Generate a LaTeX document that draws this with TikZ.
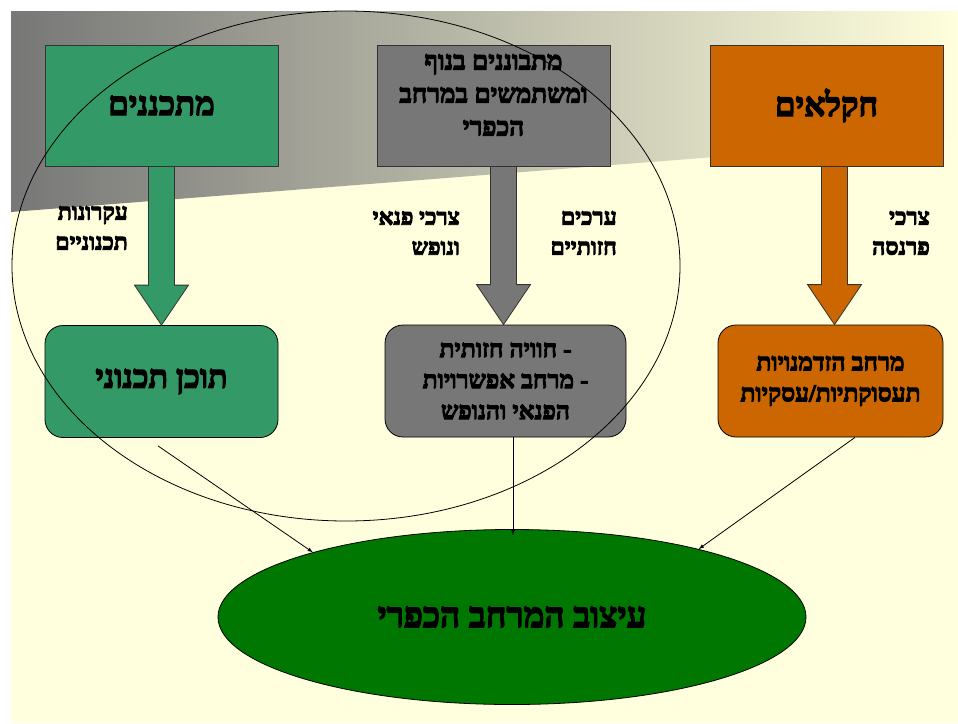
\documentclass[tikz,border=0pt]{standalone}
\usepackage{fontspec}
\usetikzlibrary{shapes.geometric,calc}
\newfontfamily\hebfont[Script=Hebrew, UprightFont={* Bold}, FakeBold=4]{Liberation Serif}
\TeXXeTstate=1
\definecolor{bgyellow}{HTML}{FFFFDD}
\definecolor{bandgray}{HTML}{777777}
\definecolor{planG}{HTML}{339966}
\definecolor{viewG}{HTML}{777777}
\definecolor{farmO}{HTML}{CC6600}
\definecolor{designG}{HTML}{007700}
\definecolor{edge}{HTML}{333333}
\begin{document}
\begin{tikzpicture}[x=1pt,y=-1pt,>=latex,
    sqbox/.style={draw=edge, line width=0.8pt, minimum width=233pt, minimum height=121pt, inner sep=0pt},
    rbox/.style={draw=black, line width=0.8pt, rounded corners=18pt, minimum height=112pt, inner sep=0pt, align=center,
      font=\hebfont\fontsize{24.5}{31}\selectfont},
    fat/.style={draw=edge, line width=0.8pt},
    lbl/.style={anchor=east, align=right, inner sep=0pt, font=\hebfont\fontsize{23}{30}\selectfont}]
    \useasboundingbox (0,0) rectangle (958,723);
    \fill[white] (0,0) rectangle (958,723);
    \fill[bgyellow] (11,11) rectangle (958,723);
    \shade[left color=bandgray, right color=bgyellow] (11,11) -- (958,11) -- (958,138) -- (11,212) -- cycle;

    \node[sqbox, fill=planG, font=\hebfont\fontsize{33}{38}\selectfont] (plan) at (161.5,105.5) {\beginR מתכננים\endR};
    \node[sqbox, fill=viewG] (obs) at (493.5,105.5) {};
    \node[align=center, inner sep=0pt, font=\hebfont\fontsize{26}{33}\selectfont] (obsText) at (493.5,95)
      {\beginR מתבוננים בנוף\endR\\\beginR ומשתמשים במרחב\endR\\\beginR הכפרי\endR};
    \node[sqbox, fill=farmO, font=\hebfont\fontsize{33}{38}\selectfont] (farm) at (826.5,105.5) {\beginR חקלאים\endR};

    \node[rbox, fill=planG, minimum width=233pt, font=\hebfont\fontsize{32}{36}\selectfont] (tokhen) at (161.5,381.5) {\beginR תוכן תכנוני\endR};
    \node[rbox, fill=viewG, minimum width=241pt] (exp) at (505.5,381)
      {\beginR - חוויה חזותית\endR\\\beginR - מרחב אפשרויות\endR\\\beginR הפנאי והנופש\endR};
    \node[rbox, fill=farmO, minimum width=225pt] (opp) at (830.5,381)
      {\beginR מרחב הזדמנויות\endR\\\beginR תעסוקתיות/עסקיות\endR};

    \node[ellipse, draw=black, line width=0.8pt, fill=designG, minimum width=588pt, minimum height=175pt,
      font=\hebfont\fontsize{35}{40}\selectfont] (design) at (512,617) {\beginR עיצוב המרחב הכפרי\endR};

    \coordinate (pTop) at (plan.south);
    \coordinate (pTip) at (tokhen.north);
    \coordinate (gTip) at ([xshift=-2pt]exp.north);
    \coordinate (gTop) at (obs.south -| gTip);
    \coordinate (oTip) at ([xshift=4pt]opp.north);
    \coordinate (oTop) at (farm.south -| oTip);
    \draw[fat, fill=planG] ($(pTop)+(-13,0)$) -- ($(pTip)+(-13,-40)$) -- ($(pTip)+(-27,-40)$) -- (pTip)
      -- ($(pTip)+(27,-40)$) -- ($(pTip)+(13,-40)$) -- ($(pTop)+(13,0)$) -- cycle;
    \draw[fat, fill=viewG] ($(gTop)+(-13,0)$) -- ($(gTip)+(-13,-40)$) -- ($(gTip)+(-27,-40)$) -- (gTip)
      -- ($(gTip)+(27,-40)$) -- ($(gTip)+(13,-40)$) -- ($(gTop)+(13,0)$) -- cycle;
    \draw[fat, fill=farmO] ($(oTop)+(-13,0)$) -- ($(oTip)+(-13,-40)$) -- ($(oTip)+(-27,-40)$) -- (oTip)
      -- ($(oTip)+(27,-40)$) -- ($(oTip)+(13,-40)$) -- ($(oTop)+(13,0)$) -- cycle;

    \node[lbl] (principles) at (128,228) {\beginR עקרונות\endR\\\beginR תכנוניים\endR};
    \node[lbl] (leisure) at (460,233) {\beginR צרכי פנאי\endR\\\beginR ונופש\endR};
    \node[lbl] (visual) at (617,233) {\beginR ערכים\endR\\\beginR חזותיים\endR};
    \node[lbl] (income) at (930,233) {\beginR צרכי\endR\\\beginR פרנסה\endR};

    \draw[->, line width=0.8pt] ([xshift=-3.5pt,yshift=-8pt]tokhen.south) -- (design.162);
    \draw[->, line width=0.8pt] ([xshift=7.5pt]exp.south) -- ([xshift=1pt,yshift=-6pt]design.north);
    \draw[->, line width=0.8pt] ([xshift=24.5pt]opp.south) -- (design.20);

    \draw[line width=0.8pt] (346,266) ellipse [x radius=334, y radius=255];
\end{tikzpicture}
\end{document}
